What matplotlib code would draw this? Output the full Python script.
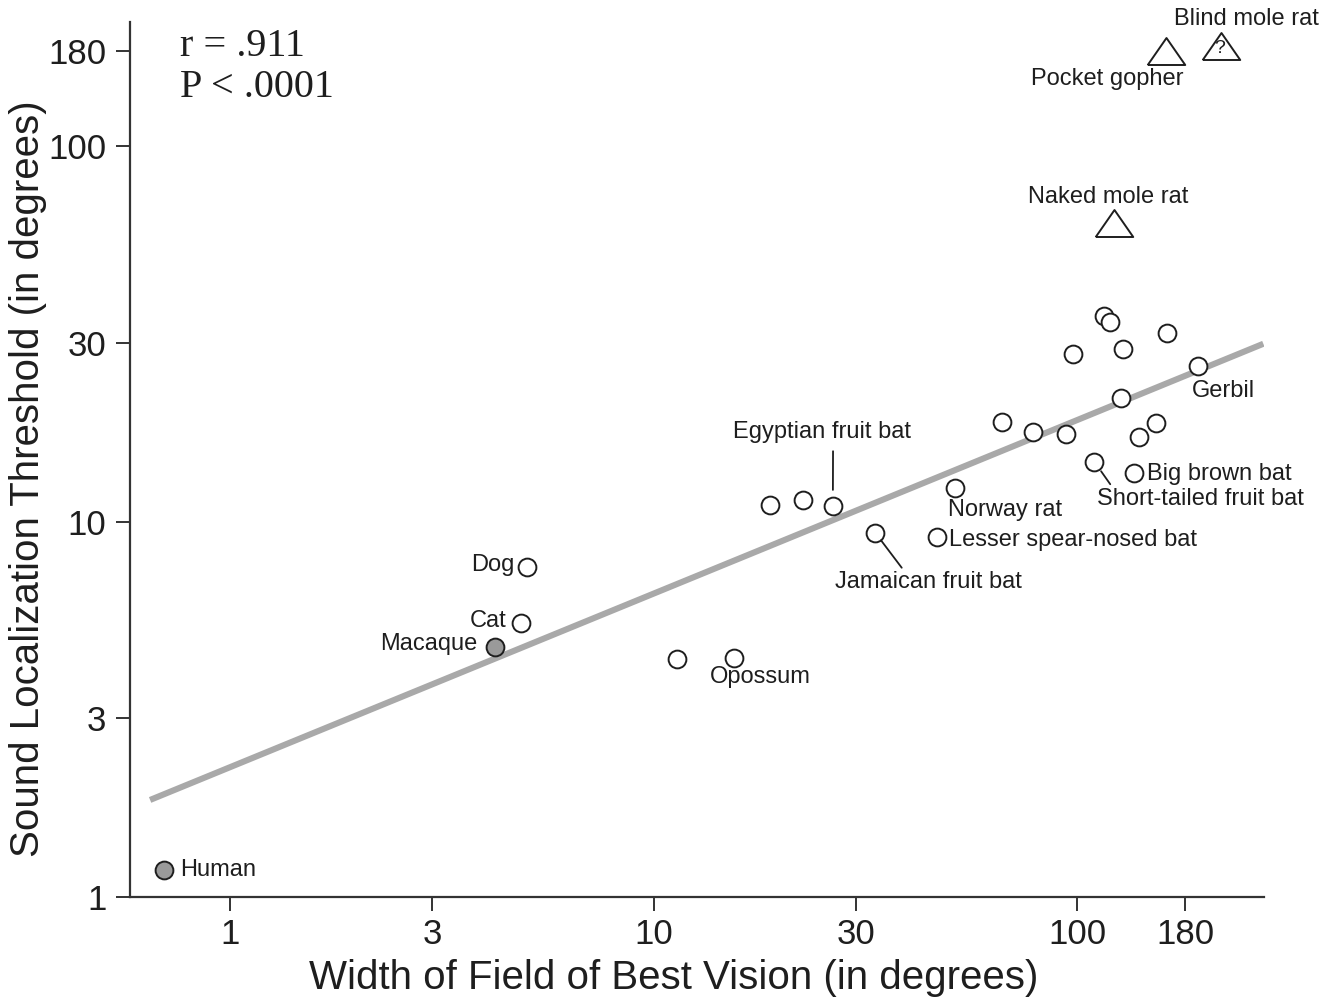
import matplotlib
matplotlib.use("Agg")
import matplotlib.pyplot as plt
from matplotlib.ticker import NullLocator, FixedLocator, FixedFormatter

plt.rcParams['font.family'] = ['Liberation Sans', 'DejaVu Sans']

# ---------------- data ----------------
# open circles (width of field of best vision, sound localization threshold)
open_x = [5.03, 4.86, 11.34, 15.50, 18.83, 22.56, 26.48, 33.32, 46.74, 51.46,
          66.34, 78.76, 94.1, 97.9, 115.7, 119.5, 128.1, 126.6, 163.2, 193.1,
          153.5, 139.9, 109.7, 136.2]
open_y = [7.56, 5.36, 4.30, 4.32, 11.08, 11.43, 11.01, 9.35, 9.12, 12.28,
          18.48, 17.38, 17.13, 28.01, 35.36, 33.94, 28.83, 21.34, 31.79, 26.02,
          18.30, 16.85, 14.45, 13.46]
open_names = ["Dog", "Cat", None, "Opossum", None, None, "Egyptian fruit bat",
              "Jamaican fruit bat", "Lesser spear-nosed bat", "Norway rat",
              None, None, None, None, None, None, None, None, None, "Gerbil",
              None, None, "Short-tailed fruit bat", "Big brown bat"]

# filled (primates)
filled_x = [0.696, 4.22]
filled_y = [1.18, 4.64]
filled_names = ["Human", "Macaque"]

# triangles (subterranean)
tri_x = [161.8, 218.6, 121.8]
tri_y = [179.2, 185.6, 62.6]
tri_names = ["Pocket gopher", "Blind mole rat", "Naked mole rat"]

# regression line end points
fit_x = [0.647, 275.0]
fit_y = [1.811, 29.78]

tick_values = [1, 3, 10, 30, 100, 180]
tick_labels = ["1", "3", "10", "30", "100", "180"]

stat_r = "r = .911"
stat_p = "P < .0001"

# ---------------- layout (label offsets, pixels) ----------------
label_layout = {
    "Human": dict(off=(17, 0), ha="left"),
    "Macaque": dict(off=(-18, 3), ha="right"),
    "Cat": dict(off=(-15, 2), ha="right"),
    "Dog": dict(off=(-13, 2), ha="right"),
    "Opossum": dict(off=(-24, -19), ha="left"),
    "Egyptian fruit bat": dict(off=(-11, 74), ha="center",
                               leader=dict(relpos=(0.563, 0.0), shrinkA=4, shrinkB=11.5)),
    "Jamaican fruit bat": dict(off=(53, -49), ha="center",
                               leader=dict(relpos=(0.37, 1.0), shrinkA=0, shrinkB=7)),
    "Norway rat": dict(off=(-7, -22), ha="left"),
    "Lesser spear-nosed bat": dict(off=(12, -3), ha="left"),
    "Gerbil": dict(off=(-6, -25), ha="left"),
    "Big brown bat": dict(off=(13, -1), ha="left"),
    "Short-tailed fruit bat": dict(off=(3, -37), ha="left",
                                   leader=dict(relpos=(0.074, 1.0), shrinkA=0.5, shrinkB=8.5)),
    "Pocket gopher": dict(off=(18, -28), ha="right"),
    "Blind mole rat": dict(off=(25, 27), ha="center"),
    "Naked mole rat": dict(off=(-5, 26), ha="center"),
}

INK = "#1e1e1e"

fig = plt.figure(figsize=(13.34, 10.01), dpi=100)
ax = fig.add_axes([130 / 1334, 1 - 896.7 / 1001, (1264 - 130) / 1334, (896.7 - 21.7) / 1001])
ax.set_xscale("log")
ax.set_yscale("log")
ax.set_xlim(0.58, 276)
ax.set_ylim(1, 215)

# regression line
ax.plot(fit_x, fit_y, color="#a9a9a9", lw=4.4, solid_capstyle="butt", zorder=1)

# markers
ax.plot(open_x, open_y, ls="none", marker="o", ms=12.8, mfc="white", mec=INK, mew=1.4, zorder=3)
ax.plot(filled_x, filled_y, ls="none", marker="o", ms=12.8, mfc="#9a9a9a", mec=INK, mew=1.4, zorder=3)
tri_marker = [(-1, -0.72), (1, -0.72), (0, 0.72), (-1, -0.72)]
ax.plot(tri_x, tri_y, ls="none", marker=tri_marker, ms=27, mfc="white", mec=INK, mew=1.4, zorder=3)

# question mark in blind mole rat triangle
ax.annotate("?", xy=(tri_x[1], tri_y[1]), xytext=(-1, -3), textcoords="offset pixels",
            ha="center", va="center", fontsize=14, color=INK, zorder=4)

# labels
points = {}
for n, x, y in zip(open_names, open_x, open_y):
    if n:
        points[n] = (x, y)
for n, x, y in zip(filled_names, filled_x, filled_y):
    points[n] = (x, y)
for n, x, y in zip(tri_names, tri_x, tri_y):
    points[n] = (x, y)

for name, lay in label_layout.items():
    kw = {}
    if "leader" in lay:
        ld = lay["leader"]
        kw["arrowprops"] = dict(arrowstyle="-", color=INK, lw=1.3,
                                relpos=ld["relpos"], shrinkA=ld["shrinkA"], shrinkB=ld["shrinkB"])
    ax.annotate(name, xy=points[name], xytext=lay["off"], textcoords="offset pixels",
                ha=lay["ha"], va="center", fontsize=17, color=INK, zorder=5, **kw)

# stats text
ax.text(0.0441, 0.9608, stat_r, transform=ax.transAxes, fontsize=29,
        family=["Liberation Serif", "DejaVu Serif"], color=INK, va="baseline", ha="left")
ax.text(0.0441, 0.9143, stat_p, transform=ax.transAxes, fontsize=29,
        family=["Liberation Serif", "DejaVu Serif"], color=INK, va="baseline", ha="left")

# axes styling
for s in ("top", "right"):
    ax.spines[s].set_visible(False)
for s in ("left", "bottom"):
    ax.spines[s].set_linewidth(1.6)
    ax.spines[s].set_color("#333333")

ax.xaxis.set_major_locator(FixedLocator(tick_values))
ax.xaxis.set_major_formatter(FixedFormatter(tick_labels))
ax.yaxis.set_major_locator(FixedLocator(tick_values))
ax.yaxis.set_major_formatter(FixedFormatter(tick_labels))
ax.xaxis.set_minor_locator(NullLocator())
ax.yaxis.set_minor_locator(NullLocator())
ax.tick_params(axis="both", which="major", length=10, width=1.4, color="#333333",
               labelsize=25, labelcolor=INK)
ax.tick_params(axis="x", pad=5)
ax.tick_params(axis="y", pad=7)

ax.set_xlabel("Width of Field of Best Vision (in degrees)", fontsize=29, color=INK, va="center")
ax.xaxis.set_label_coords(0.4797, -0.093)
ax.set_ylabel("Sound Localization Threshold (in degrees)", fontsize=29, color=INK, va="center")
ax.yaxis.set_label_coords(-0.09, 0.478)

fig.savefig("out.png", dpi=100, facecolor="white")
